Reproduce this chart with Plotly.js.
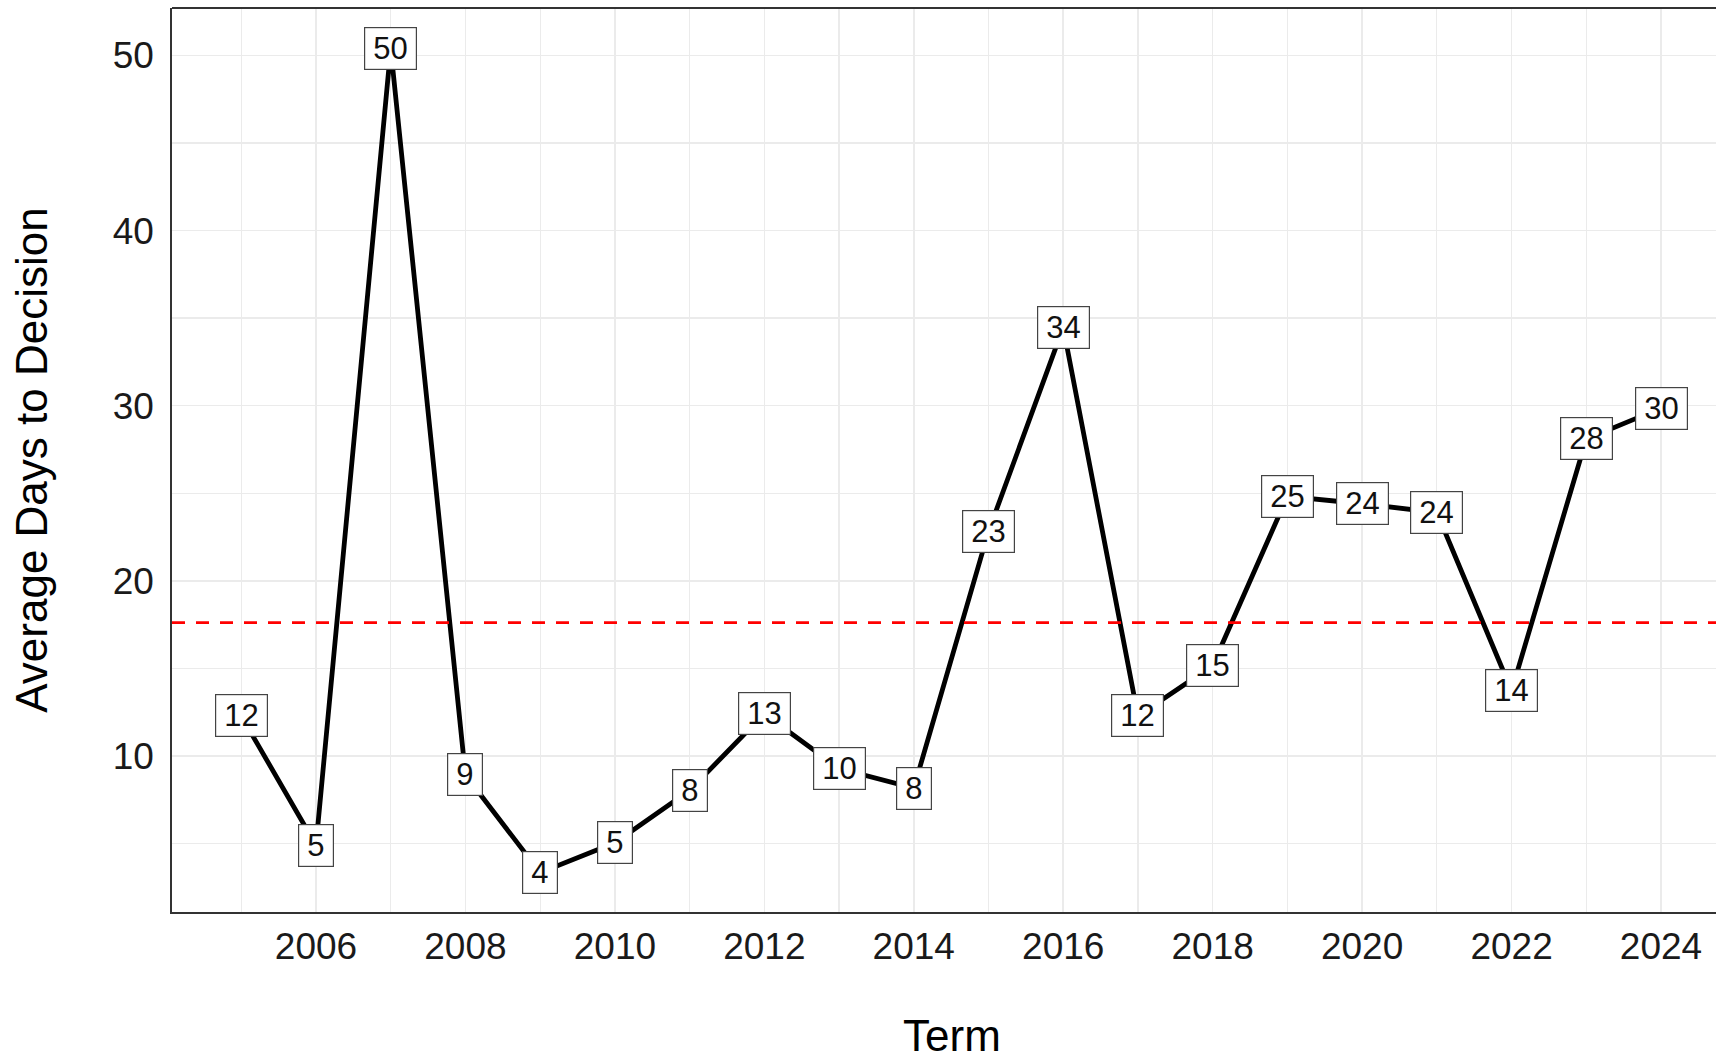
<!DOCTYPE html>
<html>
<head>
<meta charset="utf-8">
<script src="https://cdn.plot.ly/plotly-3.0.1.min.js"></script>
<style>
  html, body { margin: 0; padding: 0; background: #ffffff; overflow: hidden; width: 1716px; height: 1060px; }
  #chart { width: 1732px; height: 1060px; }
</style>
</head>
<body>
<div id="chart"></div>
<script>
// ---- data ----
const terms = [2005, 2006, 2007, 2008, 2009, 2010, 2011, 2012, 2013, 2014,
               2015, 2016, 2017, 2018, 2019, 2020, 2021, 2022, 2023, 2024];
const avgDays = [12.28, 4.90, 50.40, 8.91, 3.33, 5.04, 8.03, 12.41, 9.28, 8.16,
                 22.82, 34.47, 12.28, 15.16, 24.82, 24.40, 23.90, 13.72, 28.10, 29.86];
const dayLabels = ["12", "5", "50", "9", "4", "5", "8", "13", "10", "8",
                   "23", "34", "12", "15", "25", "24", "24", "14", "28", "30"];
const xTickVals = [2006, 2008, 2010, 2012, 2014, 2016, 2018, 2020, 2022, 2024];
const yTickVals = [10, 20, 30, 40, 50];
const overallMean = avgDays.reduce((a, b) => a + b, 0) / avgDays.length;

const FONT = '"Liberation Sans", Arial, Helvetica, sans-serif';

const trace = {
  x: terms,
  y: avgDays,
  type: 'scatter',
  mode: 'lines',
  line: { color: '#000000', width: 4.8 },
  hoverinfo: 'skip',
  showlegend: false
};

const annotations = terms.map((t, i) => ({
  x: t,
  y: avgDays[i],
  xref: 'x',
  yref: 'y',
  text: dayLabels[i],
  showarrow: false,
  xanchor: 'center',
  yanchor: 'middle',
  font: { family: FONT, size: 31, color: '#111111' },
  bgcolor: '#ffffff',
  bordercolor: '#444444',
  borderwidth: 1.2,
  borderpad: 8,
  height: 25
}));

const layout = {
  width: 1732,
  height: 1060,
  margin: { l: 172, r: 0, t: 8, b: 148, pad: 0 },
  paper_bgcolor: '#ffffff',
  plot_bgcolor: '#ffffff',
  font: { family: FONT, color: '#1a1a1a' },
  showlegend: false,
  xaxis: {
    range: [2004.073, 2024.95],
    tickmode: 'array',
    tickvals: xTickVals,
    ticktext: xTickVals.map(String),
    tickfont: { family: FONT, size: 37, color: '#1a1a1a' },
    ticks: 'outside',
    ticklen: 0.5,
    tickcolor: 'rgba(0,0,0,0)',
    showgrid: true,
    gridcolor: '#ebebeb',
    gridwidth: 1.6,
    minor: { tickmode: 'linear', tick0: 2005, dtick: 1, showgrid: true, gridcolor: '#ebebeb', gridwidth: 1.3 },
    showline: true,
    linecolor: '#333333',
    linewidth: 2.2,
    zeroline: false,
    fixedrange: true,
    title: { text: 'Term', font: { family: FONT, size: 44, color: '#000000' }, standoff: 61 }
  },
  yaxis: {
    range: [1.086, 52.71],
    tickmode: 'array',
    tickvals: yTickVals,
    ticktext: yTickVals.map(String),
    tickfont: { family: FONT, size: 37, color: '#1a1a1a' },
    ticks: 'outside',
    ticklen: 8.5,
    tickcolor: 'rgba(0,0,0,0)',
    showgrid: true,
    gridcolor: '#ebebeb',
    gridwidth: 1.6,
    minor: { tickmode: 'linear', tick0: 5, dtick: 10, showgrid: true, gridcolor: '#ebebeb', gridwidth: 1.3 },
    showline: true,
    linecolor: '#333333',
    linewidth: 2.2,
    zeroline: false,
    fixedrange: true,
    title: { text: 'Average Days to Decision', font: { family: FONT, size: 44, color: '#000000' }, standoff: 51 }
  },
  shapes: [
    {
      type: 'line', xref: 'paper', yref: 'y',
      x0: 0, x1: 1, y0: overallMean, y1: overallMean,
      line: { color: '#ff0000', width: 2.6, dash: '13px,11px' },
      layer: 'above'
    },
    {
      type: 'line', xref: 'paper', yref: 'paper',
      x0: 0, x1: 1, y0: 1, y1: 1,
      line: { color: '#333333', width: 2.2 },
      layer: 'above'
    }
  ],
  annotations: annotations
};

Plotly.newPlot('chart', [trace], layout, { staticPlot: true, displayModeBar: false });
</script>
</body>
</html>
